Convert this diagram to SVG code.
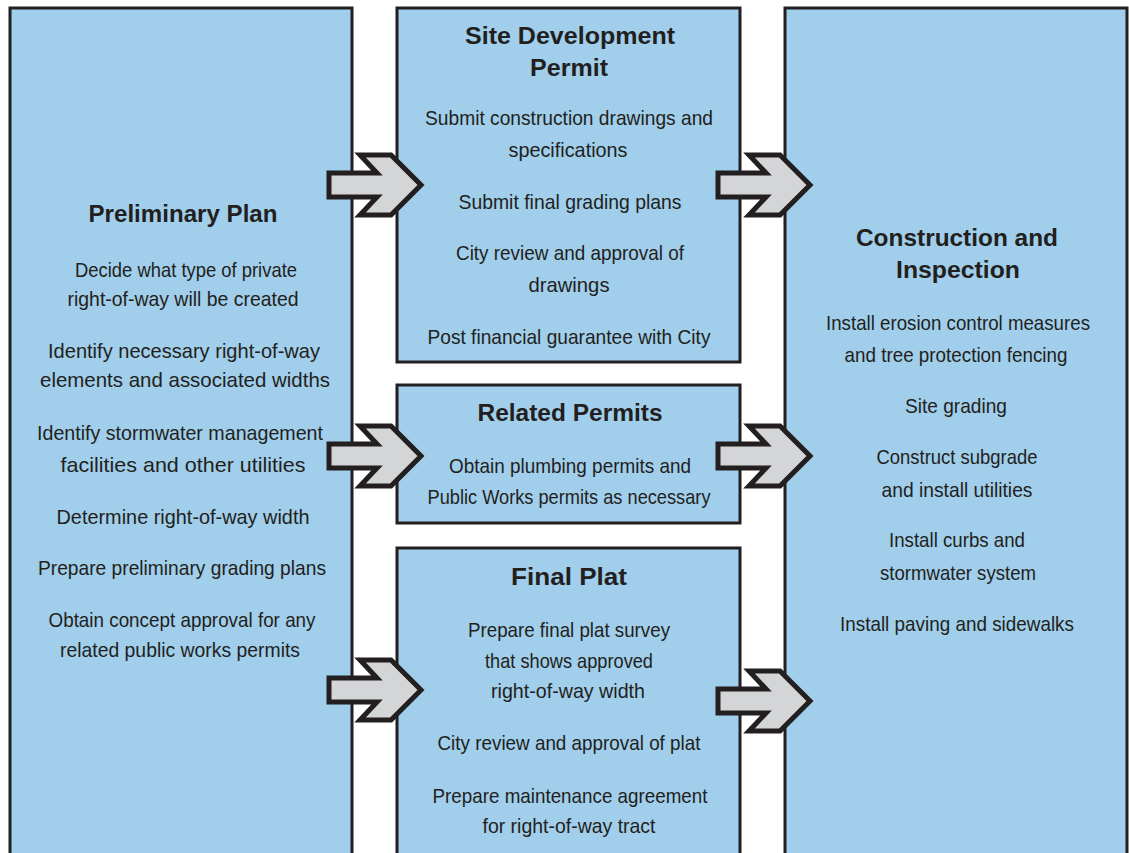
<svg xmlns="http://www.w3.org/2000/svg" width="1129" height="853" viewBox="0 0 1129 853">
<defs>
<style>
.box{fill:#A0CEEB;stroke:#231F20;stroke-width:3}
.arr{fill:#D4D5D7;stroke:#231F20;stroke-width:5;stroke-linejoin:miter;stroke-miterlimit:10}
.t{font-family:'Liberation Sans',Arial,sans-serif;font-size:21px;fill:#231F20;text-anchor:middle}
.h{font-family:'Liberation Sans',Arial,sans-serif;font-size:24px;font-weight:bold;fill:#231F20;text-anchor:middle}
</style>
</defs>
<rect width="1129" height="853" fill="#FFFFFF"/>
<g id="preliminary-plan">
<rect class="box" x="10" y="8" width="342" height="860"/>
<text class="h" x="183" y="222" textLength="189" lengthAdjust="spacingAndGlyphs">Preliminary Plan</text>
<text class="t" x="186" y="277" textLength="222" lengthAdjust="spacingAndGlyphs">Decide what type of private</text>
<text class="t" x="183" y="306" textLength="231" lengthAdjust="spacingAndGlyphs">right-of-way will be created</text>
<text class="t" x="184" y="358" textLength="272" lengthAdjust="spacingAndGlyphs">Identify necessary right-of-way</text>
<text class="t" x="185" y="387" textLength="290" lengthAdjust="spacingAndGlyphs">elements and associated widths</text>
<text class="t" x="180" y="440" textLength="286" lengthAdjust="spacingAndGlyphs">Identify stormwater management</text>
<text class="t" x="183" y="472" textLength="245" lengthAdjust="spacingAndGlyphs">facilities and other utilities</text>
<text class="t" x="183" y="524" textLength="253" lengthAdjust="spacingAndGlyphs">Determine right-of-way width</text>
<text class="t" x="182" y="575" textLength="288" lengthAdjust="spacingAndGlyphs">Prepare preliminary grading plans</text>
<text class="t" x="182" y="627" textLength="267" lengthAdjust="spacingAndGlyphs">Obtain concept approval for any</text>
<text class="t" x="180" y="657" textLength="240" lengthAdjust="spacingAndGlyphs">related public works permits</text>
</g>
<g id="site-development-permit">
<rect class="box" x="397" y="8" width="343" height="354"/>
<text class="h" x="570" y="44" textLength="210" lengthAdjust="spacingAndGlyphs">Site Development</text>
<text class="h" x="569" y="76" textLength="78" lengthAdjust="spacingAndGlyphs">Permit</text>
<text class="t" x="569" y="125" textLength="288" lengthAdjust="spacingAndGlyphs">Submit construction drawings and</text>
<text class="t" x="568" y="157" textLength="119" lengthAdjust="spacingAndGlyphs">specifications</text>
<text class="t" x="570" y="209" textLength="223" lengthAdjust="spacingAndGlyphs">Submit final grading plans</text>
<text class="t" x="570" y="260" textLength="228" lengthAdjust="spacingAndGlyphs">City review and approval of</text>
<text class="t" x="569" y="292" textLength="81" lengthAdjust="spacingAndGlyphs">drawings</text>
<text class="t" x="569" y="344" textLength="283" lengthAdjust="spacingAndGlyphs">Post financial guarantee with City</text>
</g>
<g id="related-permits">
<rect class="box" x="397" y="385" width="343" height="138"/>
<text class="h" x="570" y="421" textLength="185" lengthAdjust="spacingAndGlyphs">Related Permits</text>
<text class="t" x="570" y="473" textLength="242" lengthAdjust="spacingAndGlyphs">Obtain plumbing permits and</text>
<text class="t" x="569" y="504" textLength="283" lengthAdjust="spacingAndGlyphs">Public Works permits as necessary</text>
</g>
<g id="final-plat">
<rect class="box" x="397" y="548" width="343" height="320"/>
<text class="h" x="569" y="585" textLength="116" lengthAdjust="spacingAndGlyphs">Final Plat</text>
<text class="t" x="569" y="637" textLength="202" lengthAdjust="spacingAndGlyphs">Prepare final plat survey</text>
<text class="t" x="569" y="668" textLength="168" lengthAdjust="spacingAndGlyphs">that shows approved</text>
<text class="t" x="568" y="698" textLength="154" lengthAdjust="spacingAndGlyphs">right-of-way width</text>
<text class="t" x="569" y="750" textLength="263" lengthAdjust="spacingAndGlyphs">City review and approval of plat</text>
<text class="t" x="570" y="803" textLength="275" lengthAdjust="spacingAndGlyphs">Prepare maintenance agreement</text>
<text class="t" x="569" y="833" textLength="173" lengthAdjust="spacingAndGlyphs">for right-of-way tract</text>
</g>
<g id="construction-and-inspection">
<rect class="box" x="785" y="8" width="342" height="860"/>
<text class="h" x="957" y="246" textLength="202" lengthAdjust="spacingAndGlyphs">Construction and</text>
<text class="h" x="958" y="278" textLength="124" lengthAdjust="spacingAndGlyphs">Inspection</text>
<text class="t" x="958" y="330" textLength="264" lengthAdjust="spacingAndGlyphs">Install erosion control measures</text>
<text class="t" x="956" y="362" textLength="223" lengthAdjust="spacingAndGlyphs">and tree protection fencing</text>
<text class="t" x="956" y="413" textLength="102" lengthAdjust="spacingAndGlyphs">Site grading</text>
<text class="t" x="957" y="464" textLength="161" lengthAdjust="spacingAndGlyphs">Construct subgrade</text>
<text class="t" x="957" y="497" textLength="151" lengthAdjust="spacingAndGlyphs">and install utilities</text>
<text class="t" x="957" y="547" textLength="136" lengthAdjust="spacingAndGlyphs">Install curbs and</text>
<text class="t" x="958" y="580" textLength="156" lengthAdjust="spacingAndGlyphs">stormwater system</text>
<text class="t" x="957" y="631" textLength="234" lengthAdjust="spacingAndGlyphs">Install paving and sidewalks</text>
</g>
<g id="connectors">
<path class="arr" transform="translate(358,185)" d="M-29,-12 L19,-12 L2,-30 L33,-30 L63,0 L33,30 L2,30 L19,12 L-29,12 Z"/>
<path class="arr" transform="translate(747,185)" d="M-29,-12 L19,-12 L2,-30 L33,-30 L63,0 L33,30 L2,30 L19,12 L-29,12 Z"/>
<path class="arr" transform="translate(358,456)" d="M-29,-12 L19,-12 L2,-30 L33,-30 L63,0 L33,30 L2,30 L19,12 L-29,12 Z"/>
<path class="arr" transform="translate(747,456)" d="M-29,-12 L19,-12 L2,-30 L33,-30 L63,0 L33,30 L2,30 L19,12 L-29,12 Z"/>
<path class="arr" transform="translate(358,690)" d="M-29,-12 L19,-12 L2,-30 L33,-30 L63,0 L33,30 L2,30 L19,12 L-29,12 Z"/>
<path class="arr" transform="translate(747,701)" d="M-29,-12 L19,-12 L2,-30 L33,-30 L63,0 L33,30 L2,30 L19,12 L-29,12 Z"/>
</g>
</svg>
